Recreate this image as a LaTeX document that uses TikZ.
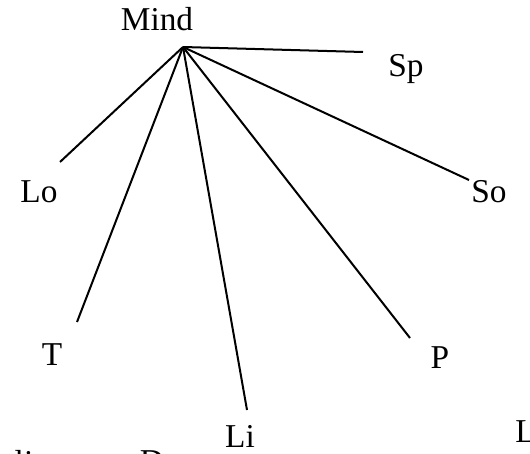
\documentclass[tikz,border=0pt]{standalone}
\usepackage{fontspec}
\setmainfont{Liberation Serif}
\usetikzlibrary{positioning}

\begin{document}
\begin{tikzpicture}[
  x=0.75pt, y=-0.75pt,
  word/.style={anchor=base, inner sep=0pt, font=\fontsize{25}{30}\selectfont},
  spoke/.style={line width=1.5pt},
]
\useasboundingbox (0,0) rectangle (530,453);
\clip (0,0) rectangle (530,453);

% --- Centre ---
\node[word] (mind) at (157,31) {Mind};
\coordinate (hub) at (183,47);

% --- Labels ---
\node[word] (sp) at (406,76) {Sp};
\node[word] (lo) at (39,202) {Lo};
\node[word] (so) at (489,202) {So};
\node[word] (t) at (52,365) {T};
\node[word] (p) at (440,368) {P};
\node[word] (li) at (240,447) {Li};
\node[word, anchor=base west] (l) at (515,442) {L};
\node[word] (li2) at (24,473) {li};
\node[word] (d) at (152,472) {D};

% --- Spoke ends ---
\coordinate (eSp) at (363,52);
\coordinate (eLo) at (60,162);
\coordinate (eSo) at (469,180);
\coordinate (eT) at (77,322);
\coordinate (eP) at (410,338);
\coordinate (eLi) at (247,410);

% --- Spokes ---
\foreach \e in {eSp,eLo,eSo,eT,eP,eLi}
  \draw[spoke] (hub) -- (\e);
\end{tikzpicture}
\end{document}
